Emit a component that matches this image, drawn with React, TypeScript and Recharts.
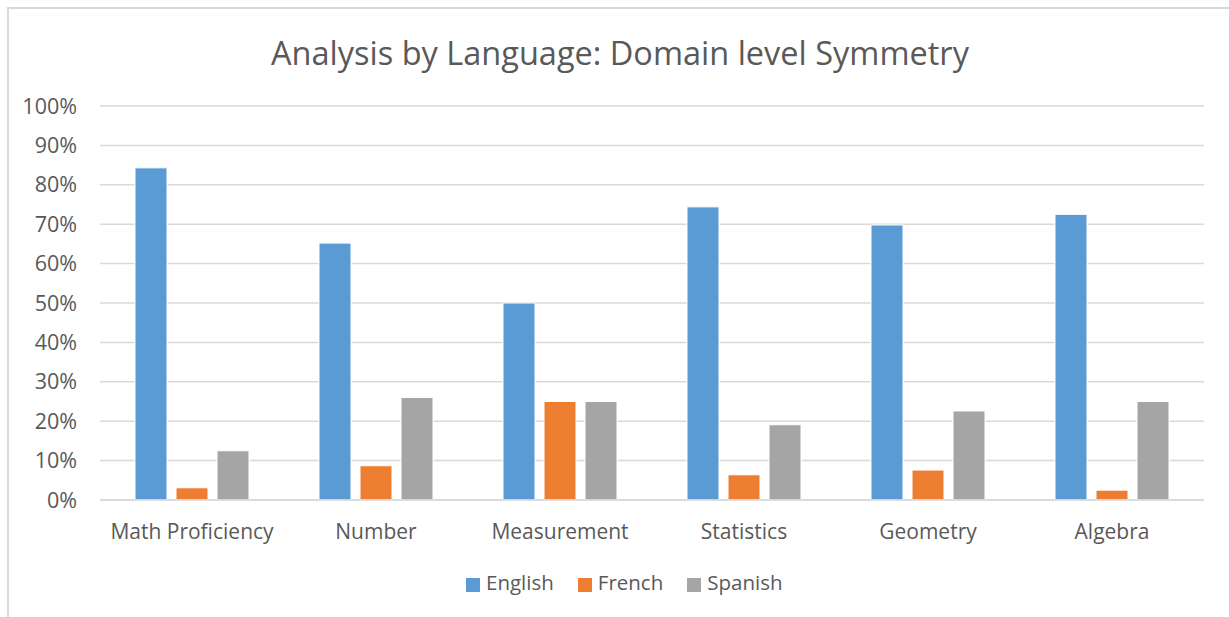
import React from 'react';
import { BarChart, Bar, XAxis, YAxis, CartesianGrid, Legend } from 'recharts';

const categories = ['Math Proficiency', 'Number', 'Measurement', 'Statistics', 'Geometry', 'Algebra'];
const english = [84.3, 65.2, 50, 74.4, 69.8, 72.5];
const french = [3.1, 8.7, 25, 6.4, 7.6, 2.5];
const spanish = [12.5, 26, 25, 19.1, 22.6, 25];
const yTicks = [0, 10, 20, 30, 40, 50, 60, 70, 80, 90, 100];

const data = categories.map((name, i) => ({
  name,
  English: english[i],
  French: french[i],
  Spanish: spanish[i],
}));

const FONT = '"Open Sans", "Noto Sans", sans-serif';
const TEXT = '#595959';

const App: React.FC = () => {
  return (
    <div style={{ position: 'absolute', left: 0, top: 0, width: 1229, height: 617, background: '#fff', fontFamily: FONT, overflow: 'hidden' }}>
      <div
        style={{
          position: 'absolute', left: 7, top: 7, width: 1222, height: 610,
          borderLeft: '2px solid #d9d9d9', borderTop: '2px solid #d9d9d9', boxSizing: 'border-box',
        }}
      />
      <div
        style={{
          position: 'absolute', left: 0, top: 30, width: 1240, textAlign: 'center',
          fontSize: 32.5, color: TEXT, fontFamily: FONT,
        }}
      >
        Analysis by Language: Domain level Symmetry
      </div>
      <div style={{ position: 'absolute', left: 0, top: 0 }}>
        <BarChart
          width={1229}
          height={617}
          data={data}
          margin={{ top: 106, right: 25, left: 0, bottom: 47 }}
          barCategoryGap={35}
          barGap={9}
        >
          <CartesianGrid vertical={false} stroke="#d9d9d9" strokeWidth={1.5} />
          <XAxis
            dataKey="name"
            axisLine={{ stroke: '#d9d9d9', strokeWidth: 1.5 }}
            tickLine={false}
            tickSize={0}
            tickMargin={24}
            tick={{ fill: TEXT, fontSize: 21, fontFamily: FONT }}
            interval={0}
          />
          <YAxis
            width={100}
            domain={[0, 100]}
            ticks={yTicks}
            tickFormatter={(v: number) => `${v}%`}
            axisLine={false}
            tickLine={false}
            tickSize={0}
            tickMargin={23}
            tick={{ fill: TEXT, fontSize: 21.5, fontFamily: FONT }}
          />
          <Legend
            verticalAlign="bottom"
            align="left"
            height={40}
            iconType="square"
            iconSize={14}
            wrapperStyle={{ top: 568, bottom: 'auto', left: 466, width: 'auto', fontSize: 20.5, fontFamily: FONT }}
            formatter={(value: string) => <span style={{ color: TEXT, marginLeft: 2, marginRight: 14 }}>{value}</span>}
          />
          <Bar dataKey="English" fill="#5B9BD5" stroke="#ffffff" strokeWidth={1} isAnimationActive={false} />
          <Bar dataKey="French" fill="#ED7D31" stroke="#ffffff" strokeWidth={1} isAnimationActive={false} />
          <Bar dataKey="Spanish" fill="#A5A5A5" stroke="#ffffff" strokeWidth={1} isAnimationActive={false} />
        </BarChart>
      </div>
    </div>
  );
};

export default App;
